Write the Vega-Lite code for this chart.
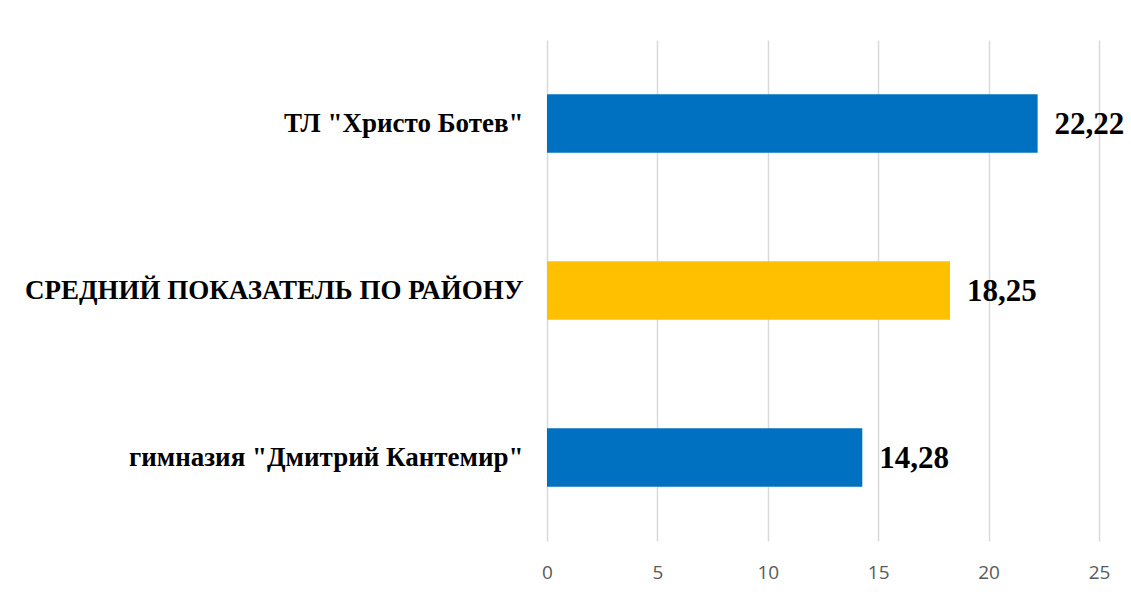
{
  "$schema": "https://vega.github.io/schema/vega-lite/v6.json",
  "width": 552,
  "height": 501,
  "autosize": {"type": "none"},
  "padding": {"left": 547, "top": 40, "right": 32, "bottom": 54},
  "background": "white",
  "data": {
    "values": [
      {"name": "ТЛ \"Христо Ботев\"", "value": 22.22, "kind": "school"},
      {"name": "СРЕДНИЙ ПОКАЗАТЕЛЬ ПО РАЙОНУ", "value": 18.25, "kind": "average"},
      {"name": "гимназия \"Дмитрий Кантемир\"", "value": 14.28, "kind": "school"}
    ]
  },
  "encoding": {
    "y": {
      "field": "name",
      "type": "nominal",
      "sort": null,
      "title": null,
      "scale": {"paddingInner": 0.65, "paddingOuter": 0.325},
      "axis": {
        "ticks": false,
        "domain": false,
        "labelFont": "Liberation Serif",
        "labelFontWeight": "bold",
        "labelFontSize": 27,
        "labelColor": "#000000",
        "labelPadding": 24,
        "labelLimit": 600
      }
    },
    "x": {
      "field": "value",
      "type": "quantitative",
      "title": null,
      "scale": {"domain": [0, 25], "nice": false},
      "axis": {
        "values": [0, 5, 10, 15, 20, 25],
        "ticks": false,
        "domain": false,
        "grid": true,
        "gridColor": "#d9d9d9",
        "gridWidth": 1.5,
        "labelFont": "Open Sans",
        "labelFontSize": 19,
        "labelColor": "#595959",
        "labelPadding": 22,
        "labelFlush": false,
        "format": "d"
      }
    }
  },
  "layer": [
    {
      "mark": {"type": "bar"},
      "encoding": {
        "color": {
          "field": "kind",
          "type": "nominal",
          "scale": {"domain": ["school", "average"], "range": ["#0070C0", "#FFC000"]},
          "legend": null
        }
      }
    },
    {
      "mark": {
        "type": "text",
        "align": "left",
        "baseline": "middle",
        "dx": 17,
        "dy": 1,
        "font": "Liberation Serif",
        "fontWeight": "bold",
        "fontSize": 31,
        "color": "#000000"
      },
      "encoding": {
        "text": {"field": "value", "type": "quantitative", "format": ".2f"}
      }
    }
  ],
  "config": {
    "view": {"stroke": null},
    "locale": {
      "number": {
        "decimal": ",",
        "thousands": " ",
        "grouping": [3],
        "currency": ["", ""]
      }
    }
  }
}
